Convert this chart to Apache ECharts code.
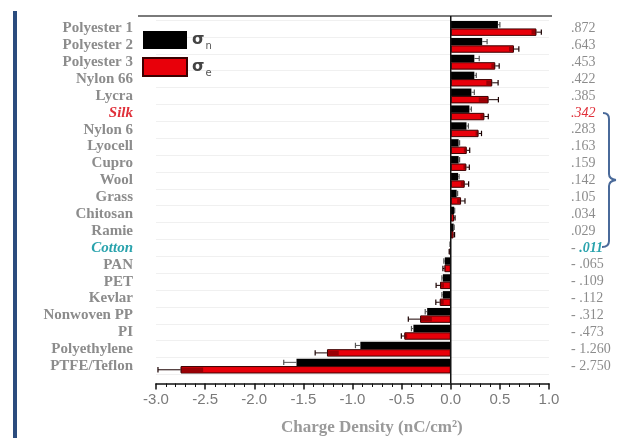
<!DOCTYPE html>
<html><head><meta charset="utf-8">
<script src="https://cdn.jsdelivr.net/npm/echarts@6/dist/echarts.min.js"></script>
<style>html,body{margin:0;padding:0;background:#fff}#c{width:625px;height:438px}</style>
</head><body><div id="c"></div>
<script>
const categories = ['Polyester 1','Polyester 2','Polyester 3','Nylon 66','Lycra','Silk','Nylon 6','Lyocell','Cupro','Wool','Grass','Chitosan','Ramie','Cotton','PAN','PET','Kevlar','Nonwoven PP','PI','Polyethylene','PTFE/Teflon'];
const sigmaN    = [0.48, 0.32, 0.24, 0.24, 0.21, 0.19, 0.16, 0.08, 0.08, 0.075, 0.06, 0.035, 0.03, -0.005, -0.06, -0.08, -0.08, -0.24, -0.38, -0.92, -1.57];
const sigmaNErr = [0.02, 0.05, 0.05, 0.02, 0.03, 0.02, 0.02, 0.01, 0.01, 0.01, 0.01, 0.005, 0.005, 0.003, 0.01, 0.01, 0.01, 0.02, 0.02, 0.05, 0.13];
const sigmaE    = [0.872, 0.643, 0.453, 0.422, 0.385, 0.342, 0.283, 0.163, 0.159, 0.142, 0.105, 0.034, 0.029, -0.011, -0.065, -0.109, -0.112, -0.312, -0.473, -1.26, -2.75];
const sigmaEErr = [0.05, 0.05, 0.04, 0.06, 0.10, 0.04, 0.03, 0.03, 0.03, 0.04, 0.04, 0.01, 0.01, 0.005, 0.015, 0.04, 0.04, 0.12, 0.03, 0.12, 0.23];
const rightLabels = ['.872','.643','.453','.422','.385','.342','.283','.163','.159','.142','.105','.034','.029','- .011','- .065','- .109','- .112','- .312','- .473','- 1.260','- 2.750'];
const highlightRed = ['Silk'];
const highlightTeal = ['Cotton'];
const seriesNames = ['σn', 'σe'];
const xTickMin = -3, xTickMax = 1, xTickStep = 0.5;

const chart = echarts.init(document.getElementById('c'), null, {renderer: 'canvas'});
const CAT_GAP = 0.12;

function errRender(sign, isRed) {
  return function (params, api) {
    const v = api.value(0), idx = api.value(1), e = api.value(2);
    const band = api.size([0, 1])[1];
    const barH = band * (1 - CAT_GAP) / 2;
    const base = api.coord([v, idx]);
    const y = base[1] + sign * barH / 2;
    const dir = v >= 0 ? 1 : -1;
    const pOut = api.coord([v + dir * e, idx])[0];
    const pIn = api.coord([v - dir * e, idx])[0];
    const x = base[0];
    const col = isRed ? '#1a0000' : '#555';
    const children = [
      {type: 'line', shape: {x1: x, y1: y, x2: pOut, y2: y}, style: {stroke: col, lineWidth: 1}},
      {type: 'line', shape: {x1: pOut, y1: y - barH / 2 + 1, x2: pOut, y2: y + barH / 2 - 1}, style: {stroke: col, lineWidth: 1.2}}
    ];
    if (isRed) {
      children.push({type: 'rect', shape: {x: Math.min(x, pIn), y: y - barH / 2 + 1.5, width: Math.abs(x - pIn), height: barH - 3}, style: {fill: 'rgba(60,0,0,0.45)'}});
    }
    return {type: 'group', children: children};
  };
}

const labelRich = {
  n: {color: '#8c8c8c', fontFamily: 'Liberation Serif', fontWeight: 'bold', fontSize: 15},
  red: {color: '#e0303a', fontFamily: 'Liberation Serif', fontWeight: 'bold', fontStyle: 'italic', fontSize: 15},
  teal: {color: '#2aa3ad', fontFamily: 'Liberation Serif', fontWeight: 'bold', fontStyle: 'italic', fontSize: 15}
};
const rightRich = {
  n: {color: '#8c8c8c', fontFamily: 'Liberation Serif', fontSize: 14},
  red: {color: '#e0303a', fontFamily: 'Liberation Serif', fontStyle: 'italic', fontSize: 14},
  teal: {color: '#2aa3ad', fontFamily: 'Liberation Serif', fontStyle: 'italic', fontWeight: 'bold', fontSize: 14},
  dash: {color: '#8c8c8c', fontFamily: 'Liberation Serif', fontSize: 14}
};
function styleKey(cat) {
  if (highlightRed.includes(cat)) return 'red';
  if (highlightTeal.includes(cat)) return 'teal';
  return 'n';
}

const option = {
  animation: false,
  backgroundColor: '#fff',
  title: {
    text: 'Charge Density (nC/cm²)',
    left: 281, top: 419, padding: 0,
    textStyle: {fontFamily: 'Liberation Serif', fontWeight: 'bold', fontSize: 17, color: '#9a9a9a'}
  },
  legend: {
    orient: 'vertical', left: 142, top: 31, padding: 0,
    itemWidth: 44, itemHeight: 18, itemGap: 6,
    icon: 'rect',
    data: seriesNames,
    formatter: function (name) { return '{s|σ}{sub|' + name.slice(1) + '}'; },
    textStyle: {
      rich: {
        s: {fontSize: 16, color: '#444', fontFamily: 'DejaVu Sans', fontWeight: 'bold'},
        sub: {fontSize: 10, color: '#555', fontFamily: 'DejaVu Sans', padding: [12, 0, 0, 1]}
      }
    }
  },
  grid: {left: 156, right: 76, top: 20, bottom: 63.5, containLabel: false, outerBoundsMode: 'none'},
  xAxis: {
    type: 'value', min: xTickMin, max: xTickMax, interval: xTickStep,
    offset: 9,
    axisLine: {show: true, onZero: false, lineStyle: {color: '#111', width: 1.5}},
    axisTick: {show: true, length: 6, lineStyle: {color: '#111', width: 1.5}},
    minorTick: {show: true, splitNumber: 5, length: 3.5, lineStyle: {color: '#111', width: 1}},
    splitLine: {show: false},
    axisLabel: {
      margin: 9, color: '#7a7a7a', fontSize: 15, fontFamily: 'Liberation Sans',
      formatter: function (v) { return v.toFixed(1); }
    }
  },
  yAxis: [{
    type: 'category', data: categories, inverse: true,
    axisLine: {show: false, onZero: false},
    axisTick: {show: false},
    splitLine: {show: true, lineStyle: {color: '#f0f0f0', width: 1}},
    axisLabel: {
      margin: 23,
      formatter: function (v) { return '{' + styleKey(v) + '|' + v + '}'; },
      rich: labelRich
    }
  }, {
    type: 'category', data: categories, inverse: true, position: 'right',
    axisLine: {show: false, onZero: false},
    axisTick: {show: false},
    splitLine: {show: false},
    axisLabel: {
      margin: 22, align: 'left',
      formatter: function (v, i) {
        const k = styleKey(v);
        const t = rightLabels[i];
        if (k === 'teal' && t.startsWith('- ')) return '{dash|- }{teal|' + t.slice(2) + '}';
        return '{' + k + '|' + t + '}';
      },
      rich: rightRich
    }
  }],
  series: [
    {name: seriesNames[0], type: 'bar', data: sigmaN, barGap: 0, barCategoryGap: (CAT_GAP * 100) + '%',
      itemStyle: {color: '#000'}},
    {name: seriesNames[1], type: 'bar', data: sigmaE, barGap: 0, barCategoryGap: (CAT_GAP * 100) + '%',
      itemStyle: {color: '#e8000a', borderColor: '#3a0000', borderWidth: 1}},
    {type: 'custom', renderItem: errRender(-1, false), encode: {x: 0, y: 1}, z: 5,
      data: sigmaN.map(function (v, i) { return [v, i, sigmaNErr[i]]; })},
    {type: 'custom', renderItem: errRender(1, true), encode: {x: 0, y: 1}, z: 5,
      data: sigmaE.map(function (v, i) { return [v, i, sigmaEErr[i]]; })}
  ]
};
chart.setOption(option);

const zeroX = chart.convertToPixel({xAxisIndex: 0}, 0);
const braceStyle = {stroke: '#4a6a9a', lineWidth: 2, fill: null};
chart.setOption({
  graphic: [
    {type: 'line', shape: {x1: 15, y1: 11, x2: 15, y2: 438}, style: {stroke: '#2b4c7e', lineWidth: 4}, z: 10},
    {type: 'line', shape: {x1: 138, y1: 16, x2: 552, y2: 16}, style: {stroke: '#7a7a7a', lineWidth: 2}, z: 10},
    {type: 'line', shape: {x1: zeroX, y1: 16, x2: zeroX, y2: 383.5}, style: {stroke: '#111', lineWidth: 1.5}, z: 10},
    {type: 'bezierCurve', shape: {x1: 603, y1: 113, cpx1: 609, cpy1: 113, x2: 609, y2: 119}, style: braceStyle, z: 10},
    {type: 'line', shape: {x1: 609, y1: 119, x2: 609, y2: 174}, style: braceStyle, z: 10},
    {type: 'bezierCurve', shape: {x1: 609, y1: 174, cpx1: 609, cpy1: 179, x2: 616, y2: 180}, style: braceStyle, z: 10},
    {type: 'bezierCurve', shape: {x1: 616, y1: 180, cpx1: 609, cpy1: 181, x2: 609, y2: 186}, style: braceStyle, z: 10},
    {type: 'line', shape: {x1: 609, y1: 186, x2: 609, y2: 241}, style: braceStyle, z: 10},
    {type: 'bezierCurve', shape: {x1: 609, y1: 241, cpx1: 609, cpy1: 247, x2: 602, y2: 247}, style: braceStyle, z: 10}
  ]
});
</script></body></html>
